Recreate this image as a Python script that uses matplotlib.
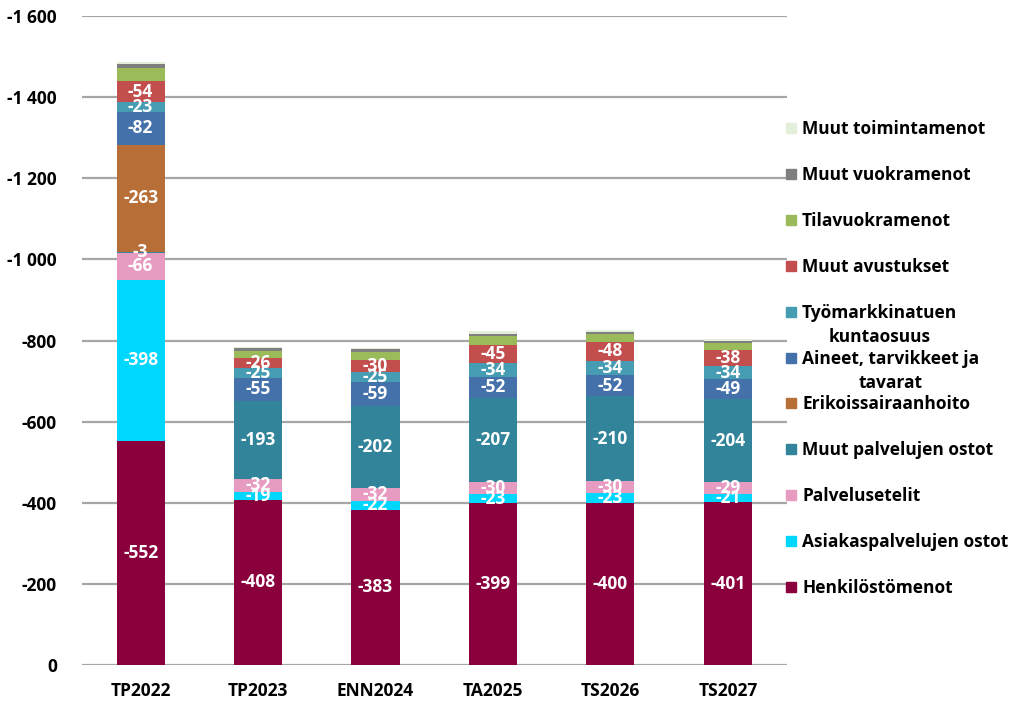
import numpy as np
import matplotlib
matplotlib.use("Agg")
import matplotlib.pyplot as plt
import matplotlib.patches as patches
from matplotlib.ticker import FuncFormatter

matplotlib.rcParams['font.family'] = ['Open Sans', 'DejaVu Sans']

years = ["TP2022", "TP2023", "ENN2024", "TA2025", "TS2026", "TS2027"]

# series from bottom to top of the stack
henkilosto = [552, 408, 383, 399, 400, 401]
asiakaspalvelu = [398, 19, 22, 23, 23, 21]
palvelusetelit = [66, 32, 32, 30, 30, 29]
muut_palvelut = [3, 193, 202, 207, 210, 204]
erikoissairaanhoito = [263, 0, 0, 0, 0, 0]
aineet = [82, 55, 59, 52, 52, 49]
tyomarkkina = [23, 25, 25, 34, 34, 34]
muut_avustukset = [54, 26, 30, 45, 48, 38]
tilavuokra = [31, 17, 19, 20, 18, 17]
muut_vuokra = [9, 6, 6, 7, 7, 5]
muut_toiminta = [6, 4, 4, 6, 5, 6]

series = [
    ("Henkilöstömenot", henkilosto, "#8A003D", True),
    ("Asiakaspalvelujen ostot", asiakaspalvelu, "#00D7FF", True),
    ("Palvelusetelit", palvelusetelit, "#E89BC1", True),
    ("Muut palvelujen ostot", muut_palvelut, "#32849A", True),
    ("Erikoissairaanhoito", erikoissairaanhoito, "#B76F37", True),
    ("Aineet, tarvikkeet ja\ntavarat", aineet, "#4571AB", True),
    ("Työmarkkinatuen\nkuntaosuus", tyomarkkina, "#459CB3", True),
    ("Muut avustukset", muut_avustukset, "#C24E4E", True),
    ("Tilavuokramenot", tilavuokra, "#9BBB5A", False),
    ("Muut vuokramenot", muut_vuokra, "#7F7F7F", False),
    ("Muut toimintamenot", muut_toiminta, "#E3EFDA", False),
]

fig = plt.figure(figsize=(10.11, 7.08), dpi=100)
ax = fig.add_axes([0.081, 0.0607, 0.697, 0.9166])

x = np.arange(len(years))
bottom = np.zeros(len(years))
for name, vals, color, show in series:
    v = -np.array(vals, dtype=float)
    ax.bar(x, v, 0.41, bottom=bottom, color=color, zorder=3)
    if show:
        for xi, vi, bi in zip(x, v, bottom):
            if vi != 0:
                ax.text(xi, bi + vi / 2, f"{int(vi)}", ha='center', va='center',
                        color='white', fontsize=12.5, fontweight='bold', zorder=4)
    bottom = bottom + v

ax.set_xlim(-0.5, len(years) - 0.5)
ax.set_ylim(0, -1600)
ax.set_yticks(np.arange(0, -1601, -200))
ax.yaxis.set_major_formatter(FuncFormatter(
    lambda val, pos: f"{int(val):,}".replace(",", " ")))
ax.set_xticks(x)
ax.set_xticklabels(years)
ax.tick_params(length=0, labelsize=12.5)
ax.tick_params(axis='y', pad=18)
ax.tick_params(axis='x', pad=12)
for lab in ax.get_xticklabels() + ax.get_yticklabels():
    lab.set_fontweight('bold')
ax.grid(axis='y', color='#A6A6A6', linewidth=1.6, zorder=0)
for s in ax.spines.values():
    s.set_visible(False)

# legend drawn by hand, top entry first
W, H = 1011, 708
for i, (name, vals, color, show) in enumerate(reversed(series)):
    yc = 128 + 45.9 * i
    fig.add_artist(patches.Rectangle((786 / W, 1 - (yc + 5) / H), 10 / W, 10 / H,
                                     transform=fig.transFigure, color=color))
    fig.text(802 / W, 1 - (yc - 8) / H, name, ha='left', va='top',
             multialignment='center', fontsize=12.5, fontweight='bold',
             linespacing=1.45)

fig.savefig("out.png", dpi=100)
